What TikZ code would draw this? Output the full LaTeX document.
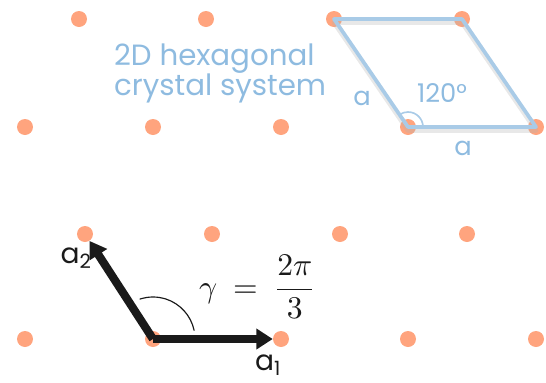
\documentclass[tikz,border=0pt]{standalone}
\usepackage{fontspec}
\setmainfont{Poppins}
\usetikzlibrary{arrows.meta}
\definecolor{dotc}{HTML}{FFA47E}
\definecolor{sky}{HTML}{A9CBE7}
\definecolor{skytext}{HTML}{8EBBE0}
\definecolor{ink}{HTML}{1A1A1A}

\begin{document}
\begin{tikzpicture}[x=0.03cm,y=-0.03cm,line cap=round,line join=round,
  site/.style={circle,fill=dotc,inner sep=0pt,minimum size=0.48cm},
  cell/.style={sky,line width=3.2pt},
  cellshade/.style={black!30,opacity=.3,line width=4pt},
  basis/.style={-{Triangle[length=14pt,width=17pt]},ink,line width=7pt,line cap=butt},
  skylab/.style={skytext,font=\fontsize{22}{26}\selectfont},
  veclab/.style={ink,font=\fontsize{24}{28}\selectfont}]
  \useasboundingbox (0,0) rectangle (546,383);

  % upper lattice
  \foreach \x [count=\i] in {79,206,334,462} \node[site] (u1\i) at (\x,19) {};
  \foreach \x [count=\i] in {25,153,281,408,536} \node[site] (u2\i) at (\x,127) {};

  % unit cell
  \draw[cellshade,transform canvas={yshift=-3pt}] (u13.center) -- (u14.center) -- (u25.center) -- (u24.center) -- cycle;
  \draw[cell] (u13.center) -- (u14.center) -- (u25.center) -- (u24.center) -- cycle;
  \draw[sky,line width=1.4pt] ([shift={(0:0.45cm)}]u24.center) arc[start angle=0,end angle=124,radius=0.45cm];
  \node[skylab] (sidea) at (362,98) {a};
  \node[skylab] (angtxt) at (442,93) {120°};
  \node[skylab] (sideb) at (463,148) {a};

  \node[skytext,anchor=base west,font=\fontsize{25}{30}\selectfont] (title1) at (110,65) {2D hexagonal};
  \node[skytext,anchor=base west,font=\fontsize{25}{30}\selectfont] (title2) at (110,95) {crystal system};

  % lower lattice
  \foreach \x [count=\i] in {85,212,340,467} \node[site] (l1\i) at (\x,234) {};
  \foreach \x [count=\i] in {25,153,281,408,536} \node[site] (l2\i) at (\x,339) {};

  % basis vectors
  \draw[ink,line width=1pt] ([shift={(12:1.26cm)}]l22.center) arc[start angle=12,end angle=108,radius=1.26cm];
  \draw[basis] (l22.center) -- (l23);
  \draw[basis] (l22.center) -- (l11);
  \node[veclab] (a2lab) at (76,258) {a\textsubscript{2}};
  \node[veclab] (a1lab) at (268,365) {a\textsubscript{1}};
  \node[ink,anchor=west,scale=2.7] (gamma) at (188,287) {$\displaystyle\gamma\:=\:\frac{2\pi}{3}$};
\end{tikzpicture}
\end{document}
